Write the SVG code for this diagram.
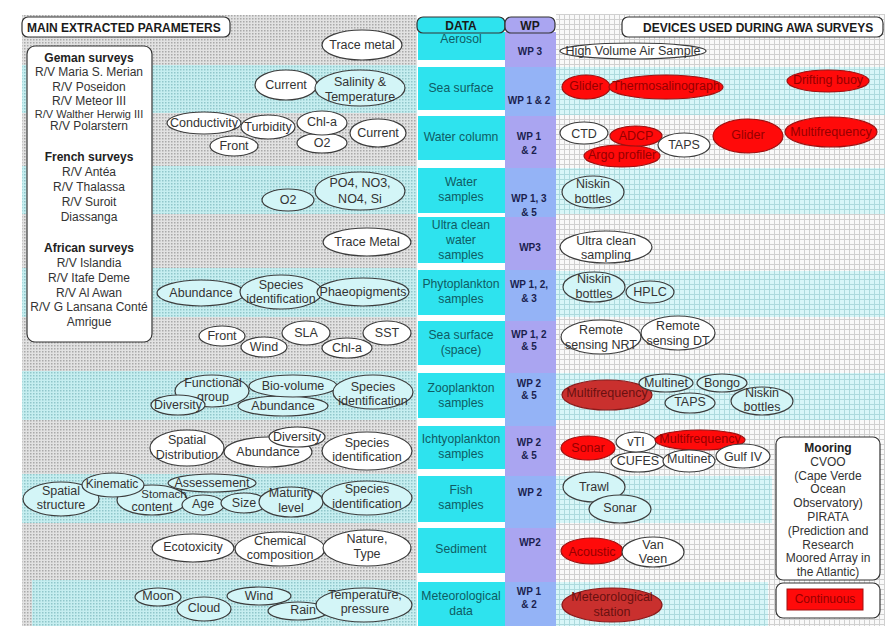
<svg xmlns="http://www.w3.org/2000/svg" width="888" height="626" viewBox="0 0 888 626">
<defs>
<pattern id="dots" width="3" height="3" patternUnits="userSpaceOnUse"><rect width="3" height="3" fill="#e2e2e2"/><rect width="1.5" height="1.5" fill="#a9a9a9"/></pattern>
<pattern id="cdots" width="3" height="3" patternUnits="userSpaceOnUse"><rect width="3" height="3" fill="#c6eef0"/><rect width="1.5" height="1.5" fill="#90c6ca"/></pattern>
<pattern id="grid" width="5" height="5" patternUnits="userSpaceOnUse"><rect width="5" height="5" fill="#f9f9f9"/><path d="M4.5 0V5M0 4.5H5" stroke="#d0d0d0" stroke-width="1"/></pattern>
<pattern id="cgrid" width="5" height="5" patternUnits="userSpaceOnUse"><rect width="5" height="5" fill="#d8f6f8"/><path d="M4.5 0V5M0 4.5H5" stroke="#addadd" stroke-width="1"/></pattern>
<style>
.e{stroke:#3c3c3c;stroke-width:1.2}
.w{fill:#ffffff}
.c{fill:#d3f5f7}
.r{fill:#ff0a0a;stroke:#a01010;stroke-width:1.2}
.dr{fill:#c9302e;stroke:#8a1a1a;stroke-width:1.2}
text{font-family:"Liberation Sans",Arial,sans-serif}
.t{font-size:12.5px;fill:#333;text-anchor:middle}
.tr{font-size:12.5px;fill:#960000;text-anchor:middle}
.tdr{font-size:12.5px;fill:#6a1010;text-anchor:middle}
.d{font-size:12.2px;fill:#0f5c64;text-anchor:middle}
.wp{font-size:10px;font-weight:bold;fill:#1b1f4f;text-anchor:middle}
.h{font-size:12px;font-weight:bold;fill:#1a1a1a}
.s{font-size:12px;fill:#333;text-anchor:middle}
.sb{font-size:12px;font-weight:bold;fill:#222;text-anchor:middle}
.box{fill:#ffffff;stroke:#333;stroke-width:1.2}
.dc{fill:#2ee3ee}
.lv{fill:#aaa5f1}
.bl{fill:#94b3f6}
</style>
</defs>

<g id="background">
<rect x="0" y="0" width="888" height="626" fill="#ffffff"/>
<rect x="22" y="15" width="395" height="611" fill="url(#dots)"/>
<rect x="22" y="65" width="395" height="48" fill="url(#cdots)"/>
<rect x="22" y="166" width="395" height="48" fill="url(#cdots)"/>
<rect x="22" y="268" width="395" height="49" fill="url(#cdots)"/>
<rect x="22" y="371" width="395" height="49" fill="url(#cdots)"/>
<rect x="22" y="474" width="395" height="49" fill="url(#cdots)"/>
<rect x="32" y="580" width="385" height="46" fill="url(#cdots)"/>
<rect x="556" y="14" width="329" height="612" fill="url(#grid)"/>
<rect x="556" y="67" width="329" height="48" fill="url(#cgrid)"/>
<rect x="556" y="168" width="329" height="46" fill="url(#cgrid)"/>
<rect x="556" y="271" width="329" height="46" fill="url(#cgrid)"/>
<rect x="556" y="373" width="329" height="47" fill="url(#cgrid)"/>
<rect x="556" y="476" width="216" height="47" fill="url(#cgrid)"/>
<rect x="556" y="582" width="212" height="44" fill="url(#cgrid)"/>
</g>

<g id="columns">
<rect class="dc" x="418" y="32" width="87" height="28"/>
<rect class="dc" x="418" y="67" width="87" height="43"/>
<rect class="dc" x="418" y="116" width="87" height="44"/>
<rect class="dc" x="418" y="168" width="87" height="45"/>
<rect class="dc" x="418" y="217" width="87" height="46"/>
<rect class="dc" x="418" y="270" width="87" height="45"/>
<rect class="dc" x="418" y="321" width="87" height="44"/>
<rect class="dc" x="418" y="373" width="87" height="45"/>
<rect class="dc" x="418" y="426" width="87" height="43"/>
<rect class="dc" x="418" y="476" width="87" height="46"/>
<rect class="dc" x="418" y="528" width="87" height="45"/>
<rect class="dc" x="418" y="582" width="87" height="44"/>
<rect class="lv" x="505" y="32" width="51" height="35"/>
<rect class="bl" x="505" y="67" width="51" height="49"/>
<rect class="lv" x="505" y="116" width="51" height="52"/>
<rect class="bl" x="505" y="168" width="51" height="49"/>
<rect class="lv" x="505" y="217" width="51" height="53"/>
<rect class="bl" x="505" y="270" width="51" height="51"/>
<rect class="lv" x="505" y="321" width="51" height="52"/>
<rect class="bl" x="505" y="373" width="51" height="53"/>
<rect class="lv" x="505" y="426" width="51" height="50"/>
<rect class="bl" x="505" y="476" width="51" height="52"/>
<rect class="lv" x="505" y="528" width="51" height="54"/>
<rect class="bl" x="505" y="582" width="51" height="44"/>
</g>

<g id="headers">
<g id="h-main"><rect class="box" x="22" y="17" width="208" height="20" rx="6"/><text class="h" x="27" y="31.5">MAIN EXTRACTED PARAMETERS</text></g>
<g id="h-data"><rect x="417" y="17" width="88" height="16" rx="6" fill="#2ee3ee" stroke="#333" stroke-width="1.2"/><text class="h" x="461" y="29.5" text-anchor="middle" fill="#1a2a4a">DATA</text></g>
<g id="h-wp"><rect x="505" y="17" width="50" height="16" rx="6" fill="#aaa5f1" stroke="#333" stroke-width="1.2"/><text class="h" x="530" y="29.5" text-anchor="middle" fill="#1a1a4a">WP</text></g>
<g id="h-devices"><rect class="box" x="622" y="17" width="261" height="20" rx="6"/><text class="h" x="643" y="31.5">DEVICES USED DURING AWA SURVEYS</text></g>
</g>

<g id="data-labels">
<text class="d" x="461" y="43">Aerosol</text>
<text class="d" x="461" y="92">Sea surface</text>
<text class="d" x="461" y="141">Water column</text>
<text class="d" x="461" y="186">Water</text><text class="d" x="461" y="201">samples</text>
<text class="d" x="461" y="229">Ultra clean</text><text class="d" x="461" y="244">water</text><text class="d" x="461" y="259">samples</text>
<text class="d" x="461" y="288">Phytoplankton</text><text class="d" x="461" y="303">samples</text>
<text class="d" x="461" y="339">Sea surface</text><text class="d" x="461" y="354">(space)</text>
<text class="d" x="461" y="392">Zooplankton</text><text class="d" x="461" y="407">samples</text>
<text class="d" x="461" y="443">Ichtyoplankton</text><text class="d" x="461" y="458">samples</text>
<text class="d" x="461" y="494">Fish</text><text class="d" x="461" y="509">samples</text>
<text class="d" x="461" y="553">Sediment</text>
<text class="d" x="461" y="600">Meteorological</text><text class="d" x="461" y="615">data</text>
</g>

<g id="wp-labels">
<text class="wp" x="530" y="55">WP 3</text>
<text class="wp" x="529" y="104">WP 1 &amp; 2</text>
<text class="wp" x="529" y="140">WP 1</text><text class="wp" x="529" y="154">&amp; 2</text>
<text class="wp" x="529" y="202">WP 1, 3</text><text class="wp" x="529" y="216">&amp; 5</text>
<text class="wp" x="530" y="251">WP3</text>
<text class="wp" x="529" y="288">WP 1, 2,</text><text class="wp" x="529" y="302">&amp; 3</text>
<text class="wp" x="529" y="338">WP 1, 2</text><text class="wp" x="529" y="350">&amp; 5</text>
<text class="wp" x="529" y="387">WP 2</text><text class="wp" x="529" y="399">&amp; 5</text>
<text class="wp" x="529" y="446">WP 2</text><text class="wp" x="529" y="459">&amp; 5</text>
<text class="wp" x="530" y="496">WP 2</text>
<text class="wp" x="530" y="546">WP2</text>
<text class="wp" x="529" y="595">WP 1</text><text class="wp" x="529" y="608">&amp; 2</text>
</g>

<g id="surveys">
<rect class="box" x="27" y="46" width="125" height="296" rx="8"/>
<text class="sb" x="89" y="62">Geman surveys</text>
<text class="s" x="89" y="76">R/V Maria S. Merian</text>
<text class="s" x="89" y="91">R/V Poseidon</text>
<text class="s" x="89" y="105">R/V Meteor III</text>
<text class="s" x="89" y="118" style="font-size:11px">R/V Walther Herwig III</text>
<text class="s" x="89" y="130">R/V Polarstern</text>
<text class="sb" x="89" y="161">French surveys</text>
<text class="s" x="89" y="176">R/V Antéa</text>
<text class="s" x="89" y="191">R/V Thalassa</text>
<text class="s" x="89" y="206">R/V Suroit</text>
<text class="s" x="89" y="221">Diassanga</text>
<text class="sb" x="89" y="252">African surveys</text>
<text class="s" x="89" y="267">R/V Islandia</text>
<text class="s" x="89" y="282">R/V Itafe Deme</text>
<text class="s" x="89" y="297">R/V Al Awan</text>
<text class="s" x="89" y="311">R/V G Lansana Conté</text>
<text class="s" x="89" y="326">Amrigue</text>
</g>

<g id="parameters">
<g id="p-trace-metal-1"><ellipse class="e w" cx="362" cy="45" rx="40" ry="15"/><text class="t" x="362" y="49">Trace metal</text></g>
<g id="p-current-1"><ellipse class="e w" cx="286" cy="85" rx="31" ry="15"/><text class="t" x="286" y="89">Current</text></g>
<g id="p-salinity"><ellipse class="e c" cx="360" cy="88" rx="45" ry="18"/><text class="t" x="360" y="86">Salinity &amp;</text><text class="t" x="360" y="101">Temperature</text></g>
<g id="p-conductivity"><ellipse class="e w" cx="204" cy="123" rx="37" ry="11"/><text class="t" x="204" y="127">Conductivity</text></g>
<g id="p-turbidity"><ellipse class="e w" cx="268" cy="127" rx="27" ry="12"/><text class="t" x="268" y="131">Turbidity</text></g>
<g id="p-front-1"><ellipse class="e w" cx="234" cy="146" rx="24" ry="10"/><text class="t" x="234" y="150">Front</text></g>
<g id="p-o2-1"><ellipse class="e w" cx="322" cy="143" rx="25" ry="10"/><text class="t" x="322" y="147">O2</text></g>
<g id="p-chla-1"><ellipse class="e w" cx="322" cy="123" rx="25" ry="12"/><text class="t" x="322" y="126">Chl-a</text></g>
<g id="p-current-2"><ellipse class="e w" cx="378" cy="133" rx="28" ry="14"/><text class="t" x="378" y="137">Current</text></g>
<g id="p-o2-2"><ellipse class="e c" cx="288" cy="200" rx="26" ry="11"/><text class="t" x="288" y="204">O2</text></g>
<g id="p-nutrients"><ellipse class="e c" cx="360" cy="191" rx="45" ry="19"/><text class="t" x="360" y="187">PO4, NO3,</text><text class="t" x="360" y="203">NO4, Si</text></g>
<g id="p-trace-metal-2"><ellipse class="e w" cx="367" cy="242" rx="44" ry="14"/><text class="t" x="367" y="246">Trace Metal</text></g>
<g id="p-abundance-1"><ellipse class="e c" cx="201" cy="293" rx="44" ry="13"/><text class="t" x="201" y="297">Abundance</text></g>
<g id="p-species-1"><ellipse class="e c" cx="281" cy="292" rx="41" ry="17"/><text class="t" x="281" y="289">Species</text><text class="t" x="281" y="303">identification</text></g>
<g id="p-phaeo"><ellipse class="e c" cx="363" cy="292" rx="46" ry="14"/><text class="t" x="363" y="296">Phaeopigments</text></g>
<g id="p-front-2"><ellipse class="e w" cx="222" cy="336" rx="23" ry="10"/><text class="t" x="222" y="340">Front</text></g>
<g id="p-wind-1"><ellipse class="e w" cx="264" cy="347" rx="23" ry="10"/><text class="t" x="264" y="351">Wind</text></g>
<g id="p-sla"><ellipse class="e w" cx="306" cy="333" rx="24" ry="12"/><text class="t" x="306" y="337">SLA</text></g>
<g id="p-chla-2"><ellipse class="e w" cx="347" cy="348" rx="25" ry="10"/><text class="t" x="347" y="352">Chl-a</text></g>
<g id="p-sst"><ellipse class="e w" cx="387" cy="333" rx="24" ry="12"/><text class="t" x="387" y="337">SST</text></g>
<g id="p-functional"><ellipse class="e c" cx="212" cy="391" rx="37" ry="16"/><text class="t" x="213" y="387">Functional</text><text class="t" x="213" y="401">group</text></g>
<g id="p-diversity-1"><ellipse class="e c" cx="178" cy="405" rx="27" ry="10"/><text class="t" x="178" y="409">Diversity</text></g>
<g id="p-abundance-2"><ellipse class="e c" cx="283" cy="406" rx="45" ry="10"/><text class="t" x="283" y="410">Abundance</text></g>
<g id="p-biovolume"><ellipse class="e c" cx="293" cy="386" rx="44" ry="11"/><text class="t" x="293" y="390">Bio-volume</text></g>
<g id="p-species-2"><ellipse class="e c" cx="373" cy="392" rx="40" ry="17"/><text class="t" x="373" y="391">Species</text><text class="t" x="373" y="405">identification</text></g>
<g id="p-spatial-dist"><ellipse class="e w" cx="187" cy="448" rx="37" ry="18"/><text class="t" x="187" y="444">Spatial</text><text class="t" x="187" y="459">Distribution</text></g>
<g id="p-abundance-3"><ellipse class="e w" cx="268" cy="452" rx="44" ry="15"/><text class="t" x="268" y="456">Abundance</text></g>
<g id="p-diversity-2"><ellipse class="e w" cx="297" cy="437" rx="28" ry="10"/><text class="t" x="297" y="441">Diversity</text></g>
<g id="p-species-3"><ellipse class="e w" cx="367" cy="451" rx="45" ry="19"/><text class="t" x="367" y="447">Species</text><text class="t" x="367" y="461">identification</text></g>
<g id="p-stomach"><ellipse class="e c" cx="152" cy="500" rx="35" ry="15"/><text class="t" x="164" y="498" style="font-size:11.5px">Stomach</text><text class="t" x="152" y="511">content</text></g>
<g id="p-spatial-struct"><ellipse class="e c" cx="61" cy="499" rx="38" ry="17"/><text class="t" x="61" y="495">Spatial</text><text class="t" x="61" y="509">structure</text></g>
<g id="p-kinematic"><ellipse class="e c" cx="113" cy="485" rx="31" ry="12"/><text class="t" x="112" y="488" style="font-size:12px">Kinematic</text></g>
<g id="p-assessement"><ellipse class="e c" cx="212" cy="483" rx="44" ry="9"/><text class="t" x="212" y="487">Assessement</text></g>
<g id="p-age"><ellipse class="e c" cx="203" cy="505" rx="21" ry="10"/><text class="t" x="203" y="508">Age</text></g>
<g id="p-size"><ellipse class="e c" cx="244" cy="503" rx="23" ry="10"/><text class="t" x="244" y="507">Size</text></g>
<g id="p-maturity"><ellipse class="e c" cx="291" cy="502" rx="32" ry="15"/><text class="t" x="291" y="497">Maturity</text><text class="t" x="291" y="512">level</text></g>
<g id="p-species-4"><ellipse class="e c" cx="367" cy="498" rx="45" ry="17"/><text class="t" x="367" y="493">Species</text><text class="t" x="367" y="508">identification</text></g>
<g id="p-ecotox"><ellipse class="e w" cx="193" cy="548" rx="41" ry="14"/><text class="t" x="193" y="551">Ecotoxicity</text></g>
<g id="p-chemical"><ellipse class="e w" cx="280" cy="549" rx="45" ry="17"/><text class="t" x="280" y="545">Chemical</text><text class="t" x="280" y="559">composition</text></g>
<g id="p-nature"><ellipse class="e w" cx="367" cy="548" rx="44" ry="18"/><text class="t" x="367" y="543">Nature,</text><text class="t" x="367" y="558">Type</text></g>
<g id="p-moon"><ellipse class="e c" cx="158" cy="597" rx="23" ry="9"/><text class="t" x="158" y="600">Moon</text></g>
<g id="p-cloud"><ellipse class="e c" cx="204" cy="609" rx="27" ry="12"/><text class="t" x="204" y="612">Cloud</text></g>
<g id="p-wind-2"><ellipse class="e c" cx="259" cy="596" rx="32" ry="9"/><text class="t" x="259" y="600">Wind</text></g>
<g id="p-rain"><ellipse class="e c" cx="298" cy="611" rx="30" ry="9"/><text class="t" x="303" y="614">Rain</text></g>
<g id="p-temp-pressure"><ellipse class="e c" cx="364" cy="605" rx="48" ry="17"/><text class="t" x="365" y="599">Temperature,</text><text class="t" x="365" y="613">pressure</text></g>
</g>

<g id="devices">
<g id="d-hvas"><ellipse class="e w" cx="633" cy="51" rx="73" ry="8"/><text class="t" x="633" y="55">High Volume Air Sample</text></g>
<g id="d-glider-1"><ellipse class="r" cx="586" cy="87" rx="24" ry="12"/><text class="tr" x="586" y="90">Glider</text></g>
<g id="d-thermo"><ellipse class="r" cx="666" cy="87" rx="57" ry="12"/><text class="tr" x="666" y="90">Thermosalinograph</text></g>
<g id="d-drifting"><ellipse class="r" cx="828" cy="81" rx="41" ry="11"/><text class="tr" x="828" y="84">Drifting buoy</text></g>
<g id="d-ctd"><ellipse class="e w" cx="584" cy="133" rx="24" ry="11"/><text class="t" x="584" y="138">CTD</text></g>
<g id="d-argo"><ellipse class="r" cx="622" cy="156" rx="38" ry="11"/><text class="tr" x="622" y="159">Argo profiler</text></g>
<g id="d-adcp"><ellipse class="r" cx="636" cy="136" rx="26" ry="10"/><text class="tr" x="636" y="140">ADCP</text></g>
<g id="d-taps-1"><ellipse class="e w" cx="684" cy="145" rx="26" ry="12"/><text class="t" x="684" y="149">TAPS</text></g>
<g id="d-glider-2"><ellipse class="r" cx="748" cy="136" rx="35" ry="17"/><text class="tr" x="748" y="139">Glider</text></g>
<g id="d-multifreq-1"><ellipse class="r" cx="831" cy="132" rx="46" ry="15"/><text class="tr" x="831" y="136">Multifrequency</text></g>
<g id="d-niskin-1"><ellipse class="e c" cx="593" cy="192" rx="31" ry="16"/><text class="t" x="593" y="188">Niskin</text><text class="t" x="593" y="203">bottles</text></g>
<g id="d-ultraclean"><ellipse class="e w" cx="606" cy="247" rx="46" ry="16"/><text class="t" x="606" y="245">Ultra clean</text><text class="t" x="606" y="259">sampling</text></g>
<g id="d-niskin-2"><ellipse class="e c" cx="594" cy="287" rx="31" ry="15"/><text class="t" x="594" y="283">Niskin</text><text class="t" x="594" y="298">bottles</text></g>
<g id="d-hplc"><ellipse class="e c" cx="650" cy="292" rx="24" ry="11"/><text class="t" x="650" y="296">HPLC</text></g>
<g id="d-rs-nrt"><ellipse class="e w" cx="601" cy="337" rx="40" ry="17"/><text class="t" x="601" y="334">Remote</text><text class="t" x="601" y="349">sensing NRT</text></g>
<g id="d-rs-dt"><ellipse class="e w" cx="678" cy="333" rx="37" ry="17"/><text class="t" x="678" y="330">Remote</text><text class="t" x="678" y="345">sensing DT</text></g>
<g id="d-multifreq-2"><ellipse class="dr" cx="607" cy="395" rx="45" ry="15"/><text class="tdr" x="607" y="397">Multifrequency</text></g>
<g id="d-multinet-1"><ellipse class="e c" cx="666" cy="383" rx="27" ry="9"/><text class="t" x="666" y="387">Multinet</text></g>
<g id="d-bongo"><ellipse class="e c" cx="722" cy="383" rx="25" ry="9"/><text class="t" x="722" y="387">Bongo</text></g>
<g id="d-taps-2"><ellipse class="e c" cx="690" cy="403" rx="25" ry="10"/><text class="t" x="690" y="406">TAPS</text></g>
<g id="d-niskin-3"><ellipse class="e c" cx="762" cy="401" rx="31" ry="14"/><text class="t" x="762" y="397">Niskin</text><text class="t" x="762" y="411">bottles</text></g>
<g id="d-sonar-1"><ellipse class="r" cx="588" cy="448" rx="27" ry="12"/><text class="tr" x="588" y="452">Sonar</text></g>
<g id="d-cufes"><ellipse class="e w" cx="638" cy="462" rx="27" ry="10"/><text class="t" x="638" y="465">CUFES</text></g>
<g id="d-vti"><ellipse class="e w" cx="636" cy="442" rx="20" ry="10"/><text class="t" x="636" y="446">vTI</text></g>
<g id="d-multifreq-3"><ellipse class="r" cx="700" cy="440" rx="45" ry="10"/><text class="tr" x="700" y="443">Multifrequency</text></g>
<g id="d-multinet-2"><ellipse class="e w" cx="689" cy="461" rx="26" ry="11"/><text class="t" x="689" y="463">Multinet</text></g>
<g id="d-gulf"><ellipse class="e w" cx="743" cy="456" rx="27" ry="12"/><text class="t" x="743" y="461">Gulf IV</text></g>
<g id="d-trawl"><ellipse class="e c" cx="594" cy="487" rx="31" ry="15"/><text class="t" x="594" y="491">Trawl</text></g>
<g id="d-sonar-2"><ellipse class="e c" cx="620" cy="509" rx="31" ry="14"/><text class="t" x="620" y="512">Sonar</text></g>
<g id="d-acoustic"><ellipse class="r" cx="592" cy="551" rx="31" ry="13"/><text class="tr" x="592" y="556">Acoustic</text></g>
<g id="d-vanveen"><ellipse class="e w" cx="653" cy="552" rx="31" ry="15"/><text class="t" x="653" y="549">Van</text><text class="t" x="653" y="563">Veen</text></g>
<g id="d-metstation"><ellipse class="dr" cx="612" cy="605" rx="50" ry="17"/><text class="tdr" x="612" y="601">Meteorological</text><text class="tdr" x="612" y="616">station</text></g>
</g>

<g id="mooring">
<rect class="box" x="776" y="437" width="104" height="143" rx="7"/>
<text class="sb" x="828" y="452">Mooring</text>
<text class="s" x="828" y="465.8">CVOO</text>
<text class="s" x="828" y="479.6">(Cape Verde</text>
<text class="s" x="828" y="493.4">Ocean</text>
<text class="s" x="828" y="507.2">Observatory)</text>
<text class="s" x="828" y="521">PIRATA</text>
<text class="s" x="828" y="534.8">(Prediction and</text>
<text class="s" x="828" y="548.6">Research</text>
<text class="s" x="828" y="562.4">Moored Array in</text>
<text class="s" x="828" y="576">the Atlantic)</text>
</g>

<g id="legend-continuous">
<rect class="box" x="776" y="583" width="104" height="35" rx="7"/>
<rect x="787" y="589" width="76" height="21" fill="#ff0a0a" stroke="#a01010" stroke-width="1"/>
<text x="825" y="603" style="font-size:12px;fill:#960000;text-anchor:middle">Continuous</text>
</g>

<g id="connectors"></g>
</svg>
